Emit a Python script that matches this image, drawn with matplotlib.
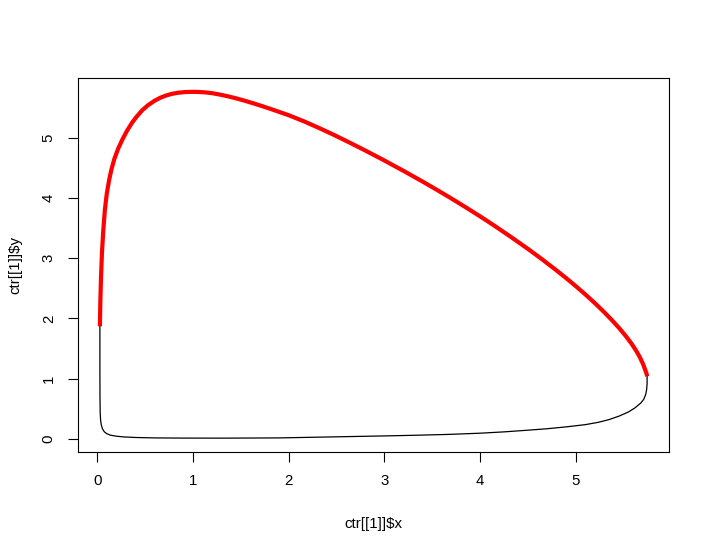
import matplotlib
matplotlib.use('Agg')
from matplotlib import pyplot as plt

plt.rcParams['font.family'] = ['Liberation Sans', 'DejaVu Sans']

# contour pieces (data units)
# lower part, thin black: from left end of red piece, down, along bottom, up to right end
x_negro = [0.028, 0.028, 0.029, 0.031, 0.035, 0.042, 0.055, 0.075, 0.10, 0.14, 0.20, 0.28,
           0.40, 0.60, 0.90, 1.3, 1.9, 2.5, 3.0, 3.3, 3.67, 4.0, 4.25, 4.5, 4.7, 4.9,
           5.1, 5.24, 5.35, 5.45, 5.55, 5.62, 5.68, 5.71, 5.73, 5.74, 5.745, 5.745]
y_negro = [1.87, 1.2, 0.7, 0.45, 0.32, 0.24, 0.17, 0.12, 0.09, 0.065, 0.048, 0.036,
           0.027, 0.02, 0.017, 0.016, 0.02, 0.038, 0.053, 0.063, 0.078, 0.098, 0.12, 0.148, 0.172, 0.203,
           0.24, 0.28, 0.325, 0.38, 0.45, 0.52, 0.6, 0.66, 0.74, 0.82, 0.92, 1.04]

# upper part, thick red
x_rojo = [0.028, 0.033, 0.04, 0.05, 0.063, 0.08, 0.10, 0.125, 0.15, 0.18, 0.22, 0.264,
          0.31, 0.36, 0.41, 0.47, 0.53, 0.60, 0.66, 0.717, 0.78, 0.85, 0.92, 0.995,
          1.06, 1.13, 1.2, 1.27, 1.36, 1.45, 1.54, 1.62, 1.71, 1.8, 1.9, 2.0,
          2.16, 2.32, 2.48, 2.63, 2.8, 3.0, 3.2, 3.4, 3.55, 3.67, 3.84, 4.0,
          4.16, 4.33, 4.51, 4.65, 4.8, 4.9, 5.0, 5.1, 5.2, 5.29, 5.38, 5.45,
          5.52, 5.58, 5.63, 5.67, 5.70, 5.725, 5.74, 5.745]
y_rojo = [1.87, 2.3, 2.7, 3.1, 3.45, 3.8, 4.07, 4.3, 4.48, 4.65, 4.82, 4.97,
          5.108, 5.236, 5.343, 5.451, 5.535, 5.61, 5.66, 5.695, 5.724, 5.743, 5.754, 5.757,
          5.755, 5.748, 5.735, 5.715, 5.685, 5.65, 5.61, 5.572, 5.527, 5.48, 5.425, 5.37,
          5.268, 5.156, 5.038, 4.921, 4.785, 4.619, 4.447, 4.269, 4.131, 4.018, 3.853, 3.693,
          3.527, 3.343, 3.142, 2.978, 2.795, 2.668, 2.536, 2.398, 2.253, 2.115, 1.968, 1.846,
          1.713, 1.587, 1.467, 1.355, 1.253, 1.15, 1.08, 1.04]

ticks_x = [0, 1, 2, 3, 4, 5]
ticks_y = [0, 1, 2, 3, 4, 5]

fig = plt.figure(figsize=(7.1, 5.51), dpi=100)
ax = fig.add_axes([78/710, 99/551, 591/710, 374/551])

ax.plot(x_negro, y_negro, color='black', lw=0.9)
ax.plot(x_rojo, y_rojo, color='red', lw=3.0, solid_capstyle='butt', solid_joinstyle='round')

# R style: 4% extension on each side
xmin, xmax = min(x_negro + x_rojo), max(x_negro + x_rojo)
ymin, ymax = min(y_negro + y_rojo), max(y_negro + y_rojo)
dx, dy = 0.04*(xmax - xmin), 0.04*(ymax - ymin)
ax.set_xlim(xmin - dx, xmax + dx)
ax.set_ylim(ymin - dy, ymax + dy)

ax.set_xticks(ticks_x)
ax.set_yticks(ticks_y)
ax.tick_params(direction='out', length=7, width=0.8, labelsize=10.8, pad=9, color='black')
for lab in ax.get_yticklabels():
    lab.set_rotation(90)
    lab.set_va('center')
for s in ax.spines.values():
    s.set_linewidth(0.8)

ax.set_xlabel(r'ctr[[1]]\$x', fontsize=10.8, va='center')
ax.set_ylabel(r'ctr[[1]]\$y', fontsize=10.8, va='center', ha='center')
ax.xaxis.set_label_coords(0.5, -72/374)
ax.yaxis.set_label_coords(-63/591, 0.5)

plt.savefig('out.png', dpi=100)
